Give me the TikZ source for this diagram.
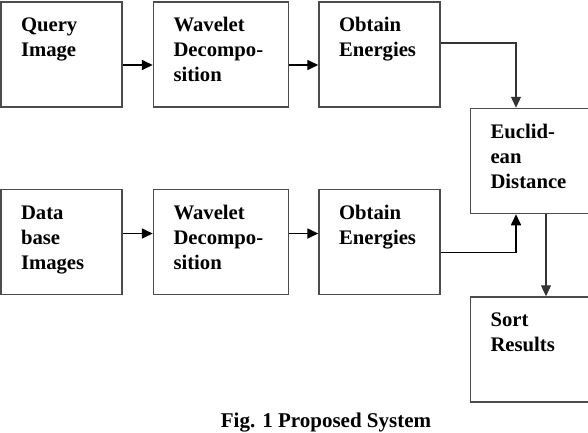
\documentclass[tikz,border=0pt]{standalone}
\usepackage{fontspec}
\setmainfont{Liberation Serif}
\usetikzlibrary{positioning}
\usetikzlibrary{arrows.meta}
\tikzset{
  block/.style={rectangle,draw=black!70,line width=1.5pt,
                align=left,text width=81pt,inner xsep=20pt,inner ysep=16pt,
                text height=13.5pt,text depth=59.5pt,
                font=\bfseries\fontsize{20.7}{25}\selectfont},
  wideblock/.style={block,text width=95pt},
  flow/.style={>={Triangle[length=11pt,width=10pt]},line width=1.7pt,->},
  thinflow/.style={>={Triangle[length=11pt,width=10pt]},line width=1.2pt,
                   draw=black!80,->},
  caption/.style={anchor=base,font=\bfseries\fontsize{21}{25}\selectfont},
}
\begin{document}
\begin{tikzpicture}[x=1pt,y=-1pt]
    \useasboundingbox (0,0) rectangle (588,432);

    % Query row
    \node[block] (qry) at (61.5,54.5) {Query\\Image};
    \node[wideblock] (wavq) [right=30pt of qry]  {Wavelet\\Decompo-\\sition};
    \node[block]     (engq) [right=29pt of wavq] {Obtain\\Energies};

    % Database row
    \node[block]     (dbi)  [below=81pt of qry]  {Data\\base\\Images};
    \node[wideblock] (wavd) [below=81pt of wavq] {Wavelet\\Decompo-\\sition};
    \node[block]     (engd) [below=81pt of engq] {Obtain\\Energies};

    % Matching
    \node[block] (dist) [below right=0pt and 29pt of engq] {Euclid-\\ean\\Distance};
    \node[block] (sort) [below=82pt of dist] {Sort\\Results};

    % Flows
    \draw[flow] ([yshift=-10.5pt]qry.east) -- ([yshift=-10.5pt]wavq.west);
    \draw[flow] ([yshift=-10.5pt]wavq.east) -- ([yshift=-10.5pt]engq.west);
    \draw[flow] ([yshift=8.5pt]dbi.east) -- ([yshift=8.5pt]wavd.west);
    \draw[flow] ([yshift=8.5pt]wavd.east) -- ([yshift=8.5pt]engd.west);
    \draw[thinflow] ([yshift=11.5pt]engq.east) -| ([xshift=-15pt]dist.north);
    \draw[flow] ([yshift=-10.5pt]engd.east) -| ([xshift=-15pt]dist.south);
    \draw[thinflow] ([xshift=15pt]dist.south) -- ([xshift=15pt]sort.north);

    \node[caption] (cap) at (326,427) {Fig. 1 Proposed System};
\end{tikzpicture}
\end{document}
